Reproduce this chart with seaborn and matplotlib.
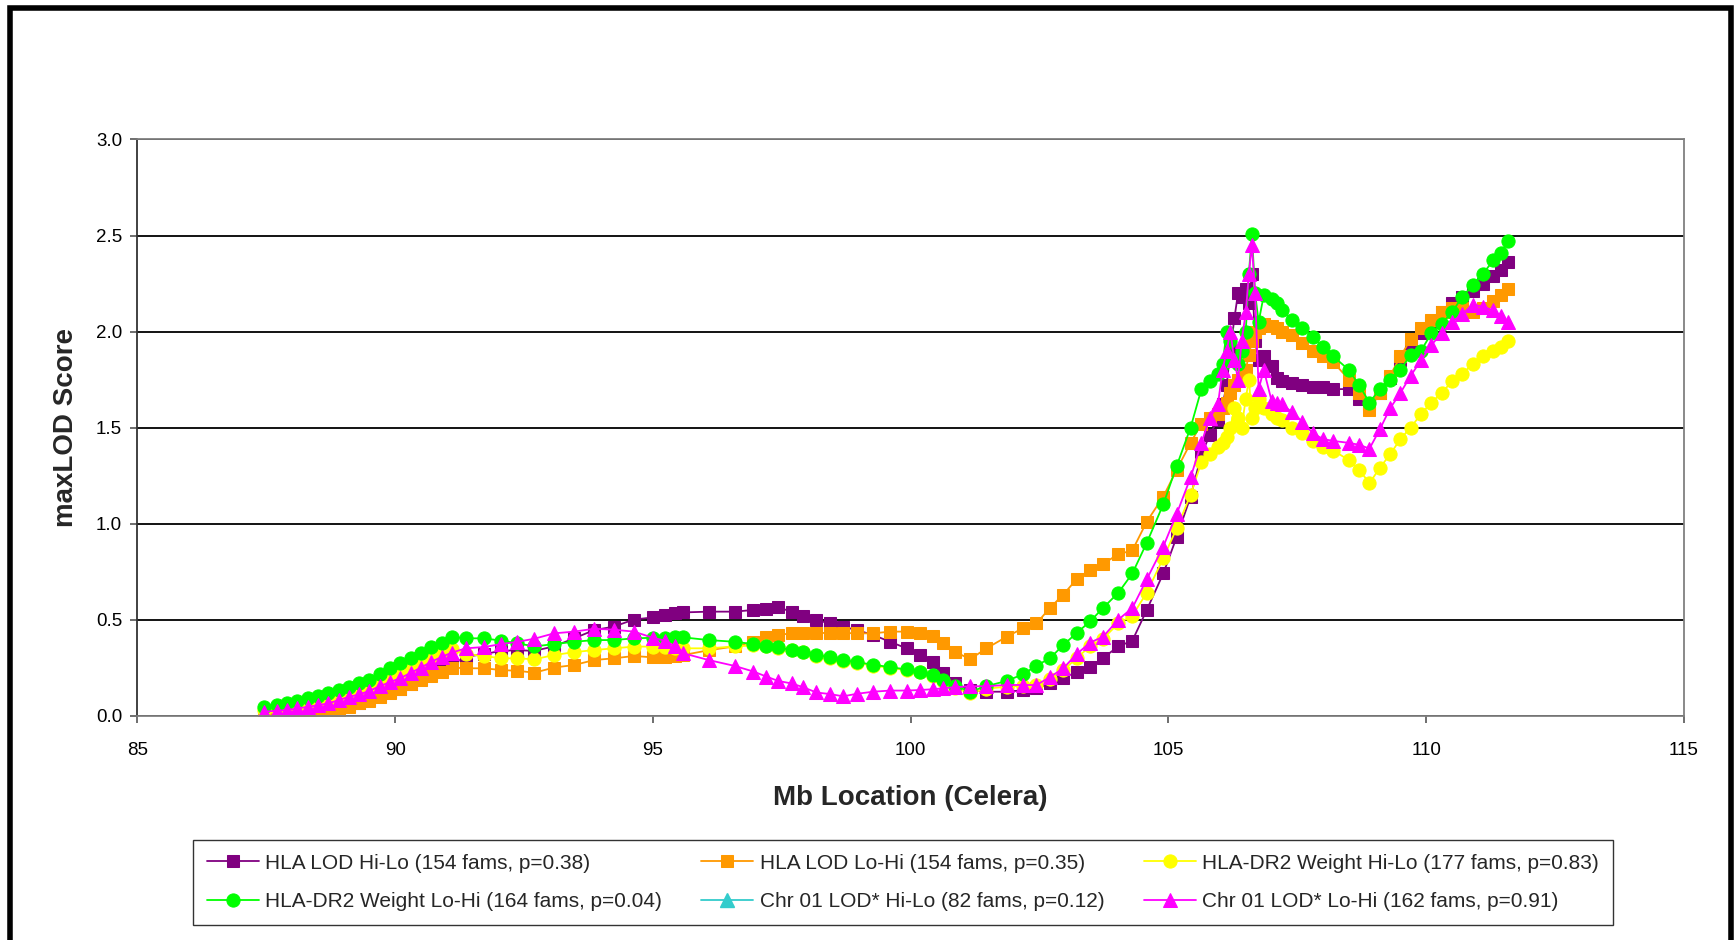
import numpy as np
import pandas as pd
import matplotlib
matplotlib.use("Agg")
import matplotlib.pyplot as plt
import seaborn as sns
from matplotlib.patches import Rectangle

sns.set_theme(style="white")
plt.rcParams['font.family'] = ['Liberation Sans', 'DejaVu Sans']

# Data: shared marker positions (Mb, Celera) and maxLOD per series
mb = [87.45, 87.7, 87.9, 88.1, 88.3, 88.5, 88.7, 88.9, 89.1, 89.3,
      89.5, 89.7, 89.9, 90.1, 90.3, 90.5, 90.7, 90.9, 91.1, 91.37,
      91.73, 92.05, 92.37, 92.7, 93.08, 93.47, 93.86, 94.24, 94.63, 95.0,
      95.23, 95.43, 95.59, 96.08, 96.59, 96.95, 97.2, 97.43, 97.69, 97.92,
      98.17, 98.43, 98.69, 98.95, 99.27, 99.6, 99.92, 100.18, 100.44, 100.63,
      100.86, 101.15, 101.47, 101.86, 102.18, 102.44, 102.7, 102.96, 103.22, 103.48,
      103.73, 104.03, 104.3, 104.58, 104.9, 105.16, 105.43, 105.64, 105.8, 105.96,
      106.05, 106.13, 106.2, 106.28, 106.35, 106.42, 106.5, 106.56, 106.62, 106.68,
      106.75, 106.85, 107.0, 107.1, 107.2, 107.4, 107.6, 107.8, 108.0, 108.2,
      108.5, 108.7, 108.9, 109.1, 109.3, 109.5, 109.7, 109.9, 110.1, 110.3,
      110.5, 110.7, 110.9, 111.1, 111.3, 111.45, 111.58]

hla_lod_hilo = [0.0, 0.003, 0.006, 0.01, 0.015, 0.02, 0.028, 0.038, 0.05, 0.065,
                0.082, 0.1, 0.12, 0.14, 0.165, 0.19, 0.215, 0.24, 0.265, 0.306,
                0.32, 0.337, 0.34, 0.337, 0.36, 0.402, 0.445, 0.463, 0.5, 0.511,
                0.523, 0.532, 0.537, 0.541, 0.541, 0.55, 0.553, 0.563, 0.541, 0.518,
                0.497, 0.48, 0.463, 0.445, 0.42, 0.384, 0.35, 0.315, 0.28, 0.22,
                0.167, 0.132, 0.124, 0.124, 0.132, 0.141, 0.167, 0.193, 0.228, 0.254,
                0.30, 0.36, 0.39, 0.55, 0.74, 0.93, 1.14, 1.36, 1.46, 1.54,
                1.62, 1.72, 1.9, 2.07, 2.2, 2.18, 2.22, 2.15, 2.3, 1.95,
                1.85, 1.87, 1.82, 1.76, 1.74, 1.73, 1.72, 1.71, 1.71, 1.70,
                1.70, 1.65, 1.62, 1.68, 1.76, 1.85, 1.92, 1.99, 2.05, 2.10,
                2.15, 2.18, 2.21, 2.25, 2.29, 2.32, 2.36]

hla_lod_lohi = [0.0, 0.002, 0.005, 0.008, 0.012, 0.017, 0.022, 0.03, 0.045, 0.063,
                0.078, 0.098, 0.118, 0.14, 0.162, 0.184, 0.205, 0.228, 0.25, 0.246,
                0.246, 0.237, 0.233, 0.223, 0.25, 0.263, 0.289, 0.298, 0.31, 0.303,
                0.305, 0.31, 0.315, 0.34, 0.36, 0.384, 0.407, 0.42, 0.428, 0.43,
                0.43, 0.43, 0.43, 0.428, 0.428, 0.437, 0.437, 0.428, 0.414, 0.376,
                0.333, 0.293, 0.35, 0.41, 0.455, 0.48, 0.56, 0.63, 0.71, 0.76,
                0.79, 0.84, 0.86, 1.01, 1.14, 1.28, 1.42, 1.52, 1.55, 1.57,
                1.6, 1.63, 1.68, 1.72, 1.75, 1.76, 1.8, 1.88, 1.95, 2.0,
                2.02, 2.04, 2.03, 2.02, 2.0, 1.98, 1.94, 1.9, 1.87, 1.84,
                1.75, 1.68, 1.59, 1.68, 1.77, 1.87, 1.96, 2.02, 2.06, 2.10,
                2.12, 2.12, 2.10, 2.12, 2.16, 2.19, 2.22]

dr2_weight_hilo = [0.03, 0.035, 0.04, 0.05, 0.058, 0.068, 0.08, 0.095, 0.112, 0.126,
                   0.143, 0.167, 0.19, 0.213, 0.24, 0.268, 0.297, 0.322, 0.345, 0.32,
                   0.31, 0.298, 0.298, 0.293, 0.315, 0.33, 0.341, 0.35, 0.359, 0.359,
                   0.355, 0.352, 0.35, 0.35, 0.36, 0.365, 0.36, 0.35, 0.34, 0.33,
                   0.31, 0.30, 0.285, 0.273, 0.26, 0.248, 0.236, 0.225, 0.205, 0.18,
                   0.145, 0.115, 0.14, 0.15, 0.155, 0.16, 0.19, 0.235, 0.30, 0.36,
                   0.40, 0.48, 0.52, 0.64, 0.82, 0.975, 1.15, 1.32, 1.36, 1.40,
                   1.42, 1.45, 1.5, 1.6, 1.55, 1.5, 1.65, 1.75, 1.55, 1.6,
                   1.65, 1.6, 1.57, 1.55, 1.54, 1.5, 1.47, 1.43, 1.40, 1.38,
                   1.33, 1.28, 1.21, 1.29, 1.36, 1.44, 1.50, 1.57, 1.63, 1.68,
                   1.74, 1.78, 1.83, 1.87, 1.90, 1.92, 1.95]

dr2_weight_lohi = [0.046, 0.056, 0.067, 0.077, 0.089, 0.10, 0.117, 0.132, 0.15, 0.167,
                   0.187, 0.215, 0.245, 0.272, 0.30, 0.326, 0.356, 0.38, 0.41, 0.402,
                   0.402, 0.39, 0.376, 0.36, 0.372, 0.384, 0.393, 0.393, 0.402, 0.405,
                   0.405, 0.407, 0.407, 0.393, 0.384, 0.372, 0.362, 0.355, 0.341, 0.332,
                   0.315, 0.305, 0.289, 0.278, 0.265, 0.252, 0.24, 0.229, 0.21, 0.185,
                   0.155, 0.124, 0.153, 0.18, 0.215, 0.26, 0.298, 0.367, 0.43, 0.49,
                   0.56, 0.64, 0.74, 0.90, 1.10, 1.30, 1.50, 1.70, 1.74, 1.78,
                   1.83, 2.0, 1.95, 1.85, 1.83, 1.9, 2.0, 2.3, 2.51, 2.2,
                   2.05, 2.19, 2.17, 2.15, 2.11, 2.06, 2.02, 1.97, 1.92, 1.87,
                   1.80, 1.72, 1.63, 1.70, 1.75, 1.80, 1.88, 1.90, 1.99, 2.04,
                   2.10, 2.18, 2.24, 2.30, 2.37, 2.41, 2.47]

chr01_hilo = []  # listed in the legend, no points shown

chr01_lohi = [0.02, 0.025, 0.028, 0.037, 0.045, 0.054, 0.063, 0.08, 0.097, 0.11,
              0.128, 0.153, 0.174, 0.195, 0.222, 0.25, 0.28, 0.305, 0.328, 0.35,
              0.357, 0.372, 0.384, 0.40, 0.428, 0.437, 0.452, 0.447, 0.437, 0.405,
              0.39, 0.36, 0.324, 0.289, 0.258, 0.229, 0.203, 0.18, 0.167, 0.147,
              0.12, 0.112, 0.10, 0.113, 0.124, 0.13, 0.13, 0.133, 0.137, 0.142,
              0.148, 0.152, 0.153, 0.159, 0.159, 0.159, 0.20, 0.246, 0.32, 0.38,
              0.41, 0.50, 0.56, 0.71, 0.88, 1.05, 1.24, 1.42, 1.55, 1.62,
              1.8, 1.9, 2.0, 1.85, 1.75, 1.95, 2.1, 2.3, 2.45, 2.2,
              1.7, 1.8, 1.64, 1.63, 1.62, 1.58, 1.53, 1.47, 1.44, 1.43,
              1.42, 1.41, 1.39, 1.49, 1.60, 1.68, 1.77, 1.85, 1.93, 1.99,
              2.05, 2.09, 2.14, 2.13, 2.11, 2.08, 2.05]

labels = ['HLA LOD Hi-Lo (154 fams, p=0.38)',
          'HLA LOD Lo-Hi (154 fams, p=0.35)',
          'HLA-DR2 Weight Hi-Lo (177 fams, p=0.83)',
          'HLA-DR2 Weight Lo-Hi (164 fams, p=0.04)',
          'Chr 01 LOD* Hi-Lo (82 fams, p=0.12)',
          'Chr 01 LOD* Lo-Hi (162 fams, p=0.91)']
series = [hla_lod_hilo, hla_lod_lohi, dr2_weight_hilo, dr2_weight_lohi, chr01_hilo, chr01_lohi]
colors = ['#800080', '#FF9900', '#FFFF00', '#00FF00', '#33CCCC', '#FF00FF']
markers = ['s', 's', 'o', 'o', '^', '^']
msizes = [9, 9, 9.5, 9.5, 9.5, 9.5]

fig = plt.figure(figsize=(17.36, 9.4), dpi=100)
ax = fig.add_axes([0.0792, 0.2388, 0.8908, 0.6128])

handles = []
for vals, lab, col, mk, ms in zip(series, labels, colors, markers, msizes):
    if len(vals) == 0:
        h, = ax.plot([], [], color=col, marker=mk, markersize=ms, lw=1.3, label=lab)
    else:
        sns.lineplot(x=mb, y=vals, ax=ax, color=col, marker=mk, markersize=ms,
                     markeredgecolor=col, linewidth=1.3, errorbar=None, label=lab, legend=False)
        h = ax.get_lines()[-1]
    handles.append(h)

ax.set_xlim(85, 115)
ax.set_ylim(0, 3)
ax.set_xticks(np.arange(85, 116, 5))
ax.set_yticks(np.arange(0, 3.01, 0.5))
ax.set_yticklabels([f'{v:.1f}' for v in np.arange(0, 3.01, 0.5)])
ax.yaxis.grid(True, color='black', linewidth=1.3)
ax.xaxis.grid(False)
ax.set_axisbelow(True)
for side in ['top', 'right', 'bottom']:
    ax.spines[side].set_color('#808080')
    ax.spines[side].set_linewidth(1.3)
ax.spines['left'].set_color('#333333')
ax.spines['left'].set_linewidth(1.3)
ax.tick_params(axis='both', which='major', direction='out', length=5, width=1.2,
               color='#555555', labelsize=13.5, labelcolor='black')
ax.tick_params(axis='x', pad=14, bottom=True)
ax.tick_params(axis='y', pad=6, left=True)

ax.set_xlabel('Mb Location (Celera)', fontsize=20, fontweight='bold', labelpad=18.5)
ax.set_ylabel('maxLOD Score', fontsize=20, fontweight='bold', labelpad=12)

# row-major legend order (matplotlib fills columns first)
order = [0, 3, 1, 4, 2, 5]
leg = fig.legend([handles[i] for i in order], [labels[i] for i in order],
                 loc='upper left', bbox_to_anchor=(193 / 1736, 1 - 840 / 940),
                 ncol=3, fontsize=15, frameon=True, fancybox=False,
                 edgecolor='black', handlelength=2.5, handletextpad=0.3,
                 columnspacing=1.9, borderaxespad=0, borderpad=0.65,
                 labelspacing=0.95)
leg.get_frame().set_linewidth(1.0)

# thick outer frame of the chart object
fig.add_artist(Rectangle((10 / 1736, -0.05), (1731 - 10) / 1736, 1.05 - 7.5 / 940,
                         transform=fig.transFigure, fill=False, edgecolor='black',
                         linewidth=4))

fig.savefig('out.png', dpi=100, facecolor='white')
